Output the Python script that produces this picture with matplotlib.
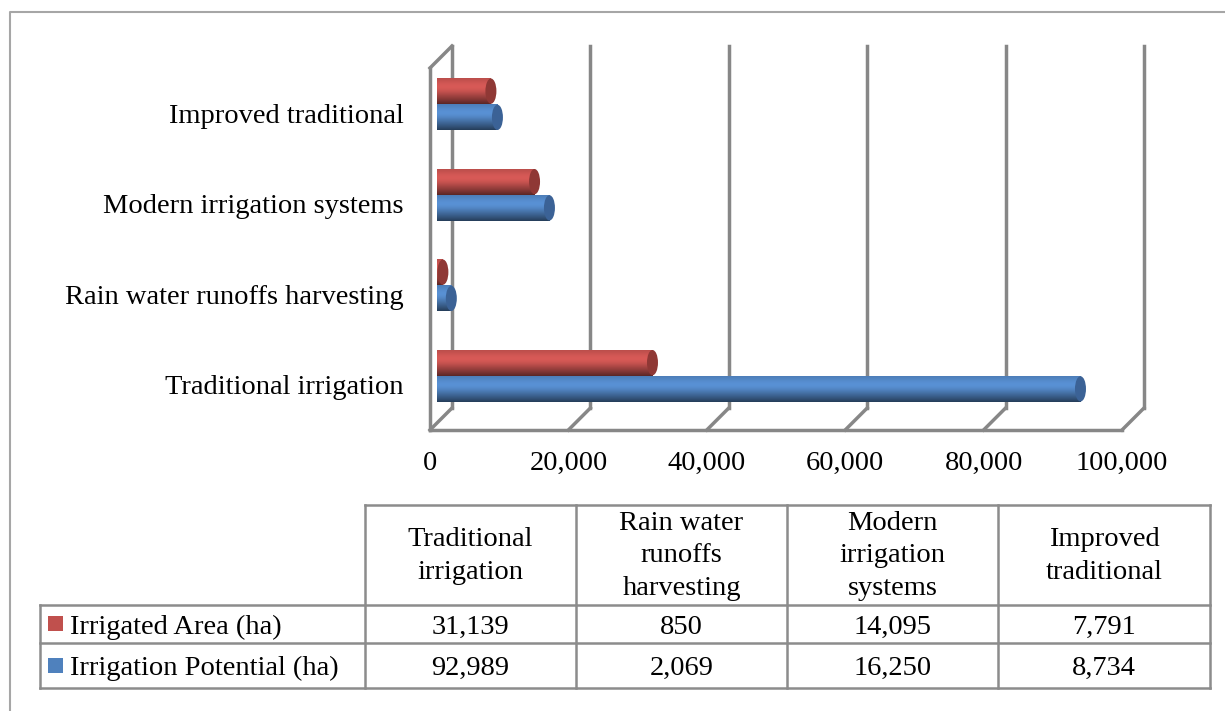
import numpy as np
import matplotlib.pyplot as plt
import matplotlib.transforms as mtrans
from matplotlib.patches import Ellipse, Rectangle

plt.rcParams['font.family'] = ['Liberation Serif', 'DejaVu Serif']

# data
categories = ['Traditional irrigation', 'Rain water runoffs harvesting',
              'Modern irrigation systems', 'Improved traditional']
header_labels = ['Traditional\nirrigation', 'Rain water\nrunoffs\nharvesting',
                 'Modern\nirrigation\nsystems', 'Improved\ntraditional']
irrigated_area = [31139, 850, 14095, 7791]
irrigation_potential = [92989, 2069, 16250, 8734]
series_names = ['Irrigated Area (ha)', 'Irrigation Potential (ha)']
xticks = [0, 20000, 40000, 60000, 80000, 100000]

W, H = 1225, 711
dpi = 100
fig = plt.figure(figsize=(W / dpi, H / dpi), dpi=dpi)

red = '#c0504d'
blue = '#4f81bd'
grid_c = '#878787'
fs = 20.5

# front plane of the pseudo 3D plot area (pixels)
L, R, T, B = 430, 1122, 68, 430
ax = fig.add_axes([L / W, 1 - B / H, (R - L) / W, (B - T) / H])
ax.set_xlim(0, 100000)
ax.set_ylim(-0.5, 3.5)
for s in ax.spines.values():
    s.set_visible(False)
ax.set_xticks(xticks)
ax.set_xticklabels([f'{v:,}' for v in xticks], fontsize=fs)
ax.set_yticks(range(len(categories)))
ax.set_yticklabels(categories, fontsize=fs)
ax.tick_params(length=0)
ax.tick_params(axis='x', pad=15)
ax.tick_params(axis='y', pad=19)

dpx = 22  # depth of the 3D box in pixels
back = ax.transData + mtrans.ScaledTranslation(dpx / dpi, dpx / dpi, fig.dpi_scale_trans)
mid = ax.transData + mtrans.ScaledTranslation(7 / dpi, 9 / dpi, fig.dpi_scale_trans)
ddx = dpx / (R - L) * 100000
ddy = dpx / (B - T) * 4

lw = 2.5
y0, y1 = -0.5, 3.5
# back wall gridlines and floor diagonals
for xv in xticks:
    ax.plot([xv, xv], [y0, y1], color=grid_c, lw=lw, transform=back, clip_on=False, zorder=1)
    ax.plot([xv, xv + ddx], [y0, y0 + ddy], color=grid_c, lw=lw, clip_on=False, zorder=1)
# front floor edge and left wall
ax.plot([0, 100000], [y0, y0], color=grid_c, lw=lw, clip_on=False, zorder=1)
ax.plot([0, 0], [y0, y1], color=grid_c, lw=lw, clip_on=False, zorder=1)
ax.plot([0, ddx], [y1, y1 + ddy], color=grid_c, lw=lw, clip_on=False, zorder=1)


def shade(base, n=64):
    c = np.array(plt.matplotlib.colors.to_rgb(base))
    t = np.linspace(0, 1, n)
    # brightness profile of a lit cylinder: light near top, dark at bottom
    k = 0.92 + 0.22 * np.exp(-((t - 0.35) / 0.3) ** 2) - 0.45 * t ** 3
    return np.clip(c[None, :] * k[:, None], 0, 1)[:, None, :]


bh = 0.285
cap_w = 11 / (R - L) * 100000
for vals, off, col, dark in [(irrigated_area, 0.145, red, '#8f3835'),
                             (irrigation_potential, -0.145, blue, '#3b6296')]:
    for i, v in enumerate(vals):
        yc = i + off
        rect = Rectangle((0, yc - bh / 2), v, bh, transform=mid, facecolor=col,
                         edgecolor='none', zorder=3, clip_on=False)
        ax.add_patch(rect)
        im = ax.imshow(shade(col), extent=(0, v, yc - bh / 2, yc + bh / 2),
                       aspect='auto', transform=mid, zorder=3, clip_on=False)
        im.set_clip_path(rect)
        ax.add_patch(Ellipse((v, yc), cap_w, bh * 0.98, transform=mid,
                             facecolor=dark, edgecolor='none', zorder=4, clip_on=False))
ax.set_xlim(0, 100000)
ax.set_ylim(-0.5, 3.5)

# overlay in pixel coordinates for the data table and frame
ov = fig.add_axes([0, 0, 1, 1], facecolor='none')
ov.set_xlim(0, W)
ov.set_ylim(H, 0)
ov.axis('off')
ov.plot([10, 10, W], [H, 12, 12], color='#a6a6a6', lw=1.5)

tc = '#8c8c8c'
cols = [40, 365, 576, 787, 998, 1210]
rows = [505, 605, 643, 688]
tl = 1.8
ov.plot([cols[1], cols[-1]], [rows[0], rows[0]], color=tc, lw=tl)
for yv in rows[1:]:
    ov.plot([cols[0], cols[-1]], [yv, yv], color=tc, lw=tl)
ov.plot([cols[0], cols[0]], [rows[1], rows[-1]], color=tc, lw=tl)
for xv in cols[1:]:
    ov.plot([xv, xv], [rows[0], rows[-1]], color=tc, lw=tl)

for j, lab in enumerate(header_labels):
    ov.text((cols[j + 1] + cols[j + 2]) / 2, (rows[0] + rows[1]) / 2 + 1, lab,
            ha='center', va='center', fontsize=fs, linespacing=1.4)

for r, (name, vals, col) in enumerate([(series_names[0], irrigated_area, red),
                                       (series_names[1], irrigation_potential, blue)]):
    yc = (rows[r + 1] + rows[r + 2]) / 2
    ov.add_patch(Rectangle((48, yc - 8), 15, 15, facecolor=col, edgecolor='none'))
    ov.text(70, yc, name, ha='left', va='center_baseline', fontsize=fs)
    for j, v in enumerate(vals):
        ov.text((cols[j + 1] + cols[j + 2]) / 2, yc, f'{v:,}',
                ha='center', va='center_baseline', fontsize=fs)

fig.savefig('out.png', dpi=dpi)
